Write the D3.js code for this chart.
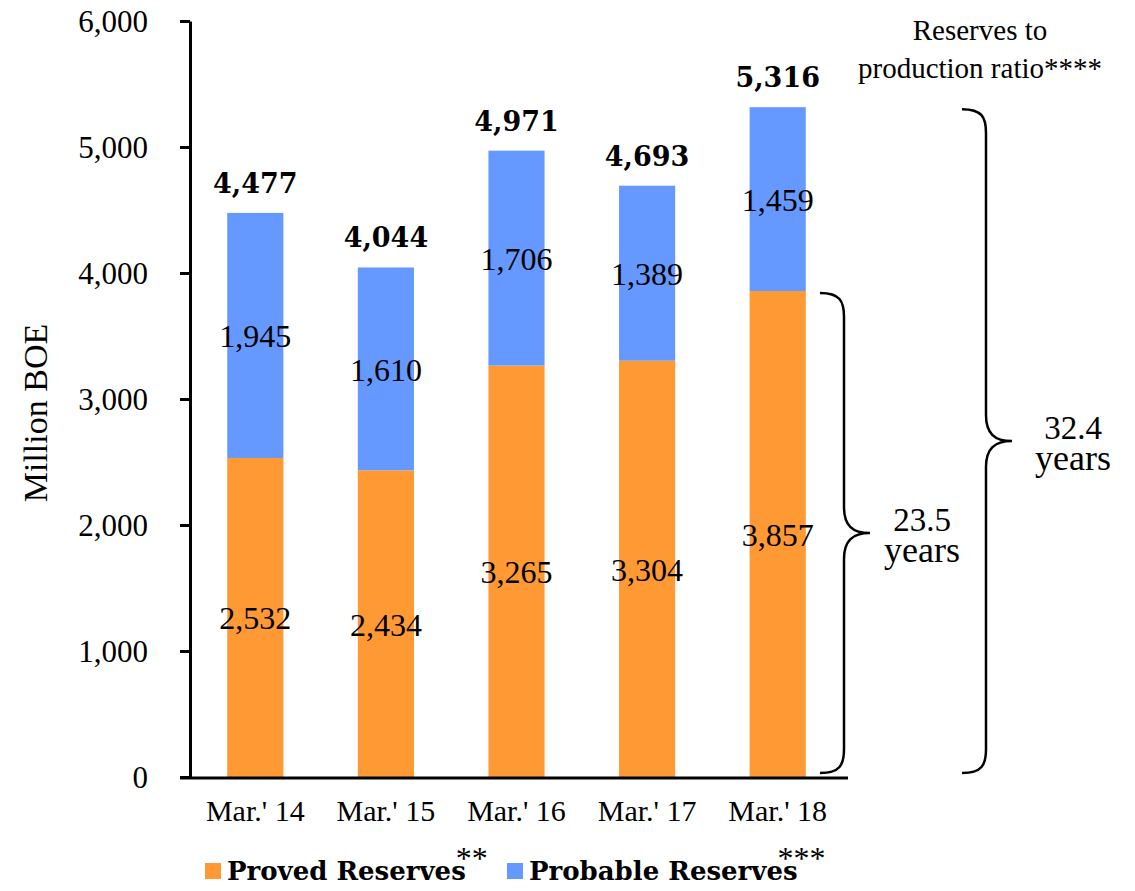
<!DOCTYPE html>
<html>
<head>
<meta charset="utf-8">
<script src="https://cdn.jsdelivr.net/npm/d3@7"></script>
<style>
  body { margin: 0; background: #fff; }
  text { font-family: "Liberation Serif", serif; fill: #000; }
  .bold { font-family: "DejaVu Serif", serif; font-weight: bold; }
</style>
</head>
<body>
<div id="chart"></div>
<script>
// Chart data
var categories = ["Mar.' 14", "Mar.' 15", "Mar.' 16", "Mar.' 17", "Mar.' 18"];
var proved = [2532, 2434, 3265, 3304, 3857];
var probable = [1945, 1610, 1706, 1389, 1459];
var totals = [4477, 4044, 4971, 4693, 5316];
var yTicks = [0, 1000, 2000, 3000, 4000, 5000, 6000];
var seriesNames = ["Proved Reserves", "Probable Reserves"];
var seriesMarks = ["**", "***"];
var ratioTitle = ["Reserves to", "production ratio****"];
var ratioYears = ["23.5", "32.4"];

var colors = ["#FF9933", "#6699FF"];

var svgWidth = 1135;
var svgHeight = 891;

var svg = d3.select("#chart")
  .append("svg")
  .attr("width", svgWidth)
  .attr("height", svgHeight);

// Scales
var xScale = d3.scaleBand()
  .domain(categories)
  .range([190, 843])
  .paddingInner(0.57)
  .paddingOuter(0.285);

var yScale = d3.scaleLinear()
  .domain([0, 6000])
  .range([777, 21]);

// Stack the two series
var rows = categories.map(function(c, i) {
  return { cat: c, proved: proved[i], probable: probable[i] };
});
var stacked = d3.stack().keys(["proved", "probable"])(rows);

// Bars
stacked.forEach(function(layer, li) {
  svg.append("g")
    .selectAll("rect")
    .data(layer)
    .enter()
    .append("rect")
    .attr("x", d => xScale(d.data.cat))
    .attr("width", xScale.bandwidth())
    .attr("y", d => yScale(d[1]))
    .attr("height", d => yScale(d[0]) - yScale(d[1]))
    .attr("fill", colors[li]);

  // value labels in the middle of each segment
  svg.append("g")
    .selectAll("text")
    .data(layer)
    .enter()
    .append("text")
    .attr("x", d => xScale(d.data.cat) + xScale.bandwidth() / 2)
    .attr("y", d => (yScale(d[0]) + yScale(d[1])) / 2 + 12)
    .attr("text-anchor", "middle")
    .style("font-size", "32px")
    .text(d => d3.format(",")(d[1] - d[0]));
});

// Totals above the bars
svg.append("g")
  .selectAll("text")
  .data(totals)
  .enter()
  .append("text")
  .attr("class", "bold")
  .attr("x", (d, i) => xScale(categories[i]) + xScale.bandwidth() / 2)
  .attr("y", d => yScale(d) - 20)
  .attr("text-anchor", "middle")
  .style("font-size", "27px")
  .text(d => d3.format(",")(d));

// Y axis
var leftAxis = d3.axisLeft(yScale)
  .tickValues(yTicks)
  .tickFormat(d3.format(","))
  .tickSize(10)
  .tickSizeOuter(0)
  .tickPadding(32);

var yAxisG = svg.append("g")
  .attr("transform", "translate(190, 0)")
  .call(leftAxis);
yAxisG.select(".domain").attr("stroke", "#000").attr("stroke-width", 3);
yAxisG.selectAll(".tick line").attr("stroke", "#000").attr("stroke-width", 3);
yAxisG.selectAll(".tick text")
  .style("font-family", "Liberation Serif, serif")
  .style("font-size", "31px")
  .attr("dy", "0.35em");

// X axis line and category labels
svg.append("line")
  .attr("x1", 180)
  .attr("x2", 848)
  .attr("y1", yScale(0) + 1)
  .attr("y2", yScale(0) + 1)
  .attr("stroke", "#000")
  .attr("stroke-width", 3);

svg.append("g")
  .selectAll("text")
  .data(categories)
  .enter()
  .append("text")
  .attr("x", d => xScale(d) + xScale.bandwidth() / 2)
  .attr("y", 821)
  .attr("text-anchor", "middle")
  .style("font-size", "30px")
  .text(d => d);

// Y axis title
svg.append("text")
  .attr("transform", "rotate(-90)")
  .attr("x", -413)
  .attr("y", 47)
  .attr("text-anchor", "middle")
  .style("font-size", "34px")
  .text("Million BOE");

// Legend
var legendX = [205, 507];
var markShift = [-10, -20];
seriesNames.forEach(function(name, i) {
  var g = svg.append("g").attr("transform", `translate(${legendX[i]}, 0)`);
  g.append("rect")
    .attr("x", 0)
    .attr("y", 863)
    .attr("width", 16)
    .attr("height", 16)
    .attr("fill", colors[i]);
  var t = g.append("text")
    .attr("class", "bold")
    .attr("x", 22)
    .attr("y", 880)
    .style("font-size", "26px")
    .text(name);
  t.append("tspan")
    .attr("dx", markShift[i])
    .attr("dy", -11)
    .style("font-family", "Liberation Serif, serif")
    .style("font-weight", "normal")
    .style("font-size", "32px")
    .text(seriesMarks[i]);
});

// Reserves to production ratio title
svg.append("g")
  .selectAll("text")
  .data(ratioTitle)
  .enter()
  .append("text")
  .attr("x", 980)
  .attr("y", (d, i) => 40 + i * 38)
  .attr("text-anchor", "middle")
  .style("font-size", "29px")
  .text(d => d);

// Curly braces
function bracePath(x0, xv, xt, y0, y1) {
  var ym = (y0 + y1) / 2;
  return `M${x0},${y0}` +
    ` C${xv - 4},${y0} ${xv},${y0 + 8} ${xv},${y0 + 24}` +
    ` L${xv},${ym - 26}` +
    ` C${xv},${ym - 8} ${xv + 8},${ym} ${xt},${ym}` +
    ` C${xv + 8},${ym} ${xv},${ym + 8} ${xv},${ym + 26}` +
    ` L${xv},${y1 - 24}` +
    ` C${xv},${y1 - 8} ${xv - 4},${y1} ${x0},${y1}`;
}

var braces = [
  { top: proved[4], x0: 820, xv: 844, xt: 870, tx: 922 },
  { top: totals[4], x0: 962, xv: 986, xt: 1012, tx: 1073 }
];

braces.forEach(function(b, i) {
  var y0 = yScale(b.top) + 2;
  var y1 = yScale(0) - 4;
  svg.append("path")
    .attr("d", bracePath(b.x0, b.xv, b.xt, y0, y1))
    .attr("fill", "none")
    .attr("stroke", "#000")
    .attr("stroke-width", 2.5);
  var ym = (y0 + y1) / 2;
  svg.append("text")
    .attr("x", b.tx)
    .attr("y", ym - 2)
    .attr("text-anchor", "middle")
    .style("font-size", "33px")
    .text(ratioYears[i]);
  svg.append("text")
    .attr("x", b.tx)
    .attr("y", ym + 29)
    .attr("text-anchor", "middle")
    .style("font-size", "36px")
    .text("years");
});
</script>
</body>
</html>
